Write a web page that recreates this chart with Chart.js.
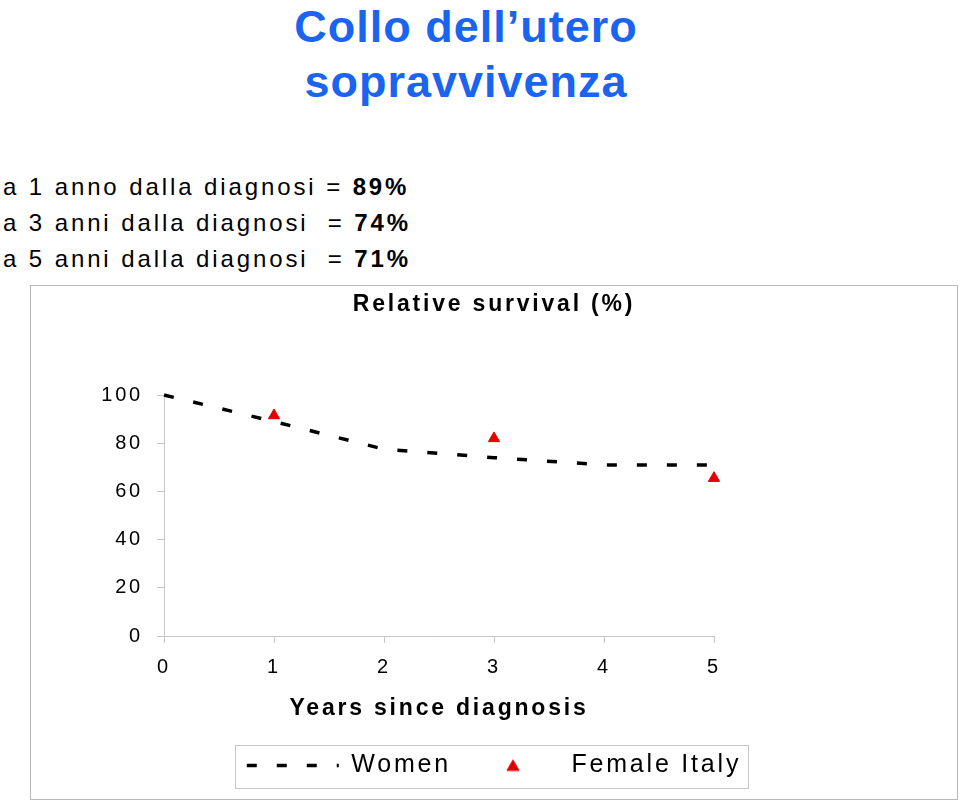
<!DOCTYPE html>
<html>
<head>
<meta charset="utf-8">
<script src="https://cdn.jsdelivr.net/npm/chart.js@4.4.1/dist/chart.umd.min.js"></script>
<style>
  body { margin: 0; width: 960px; height: 802px; background: #fff; position: relative; overflow: hidden; font-family: "Liberation Sans", Arial, sans-serif; }
  #head { position: absolute; left: 0; top: -1.4px; width: 932px; text-align: center; color: #1a64f0; font-weight: bold; font-size: 45px; line-height: 55px; letter-spacing: 1px; }
  #facts { position: absolute; left: 3px; top: 168.7px; font-size: 24px; line-height: 36px; letter-spacing: 2.9px; color: #000; white-space: pre; }
  #box { position: absolute; left: 30px; top: 285px; width: 926px; height: 513px; border: 1px solid #b8b8b8; }
</style>
</head>
<body>
<div id="head">Collo dell’utero<br>sopravvivenza</div>
<div id="facts">a 1 anno dalla diagnosi = <b>89%</b>
a 3 anni dalla diagnosi  = <b>74%</b>
a 5 anni dalla diagnosi  = <b>71%</b></div>
<div id="box"><canvas id="myChart" width="926" height="513"></canvas></div>
<script>
// data
var years = [0, 1, 2, 3, 4, 5]
var women = [100, 89, 77.5, 74, 71, 71]
var italyYears = [1, 3, 5]
var italy = [91.5, 82, 65.5]
var yTicks = [0, 20, 40, 60, 80, 100]
var xTicks = [0, 1, 2, 3, 4, 5]

Chart.defaults.font.family = '"Liberation Sans", Arial, sans-serif'
Chart.defaults.color = '#000'

var axisGray = '#c6c6c6'
var red = '#e50000'

// small triangle for the legend (pointStyleWidth would stretch the built-in one)
var triImg = document.createElement('canvas')
triImg.width = 16
triImg.height = 14
var tctx = triImg.getContext('2d')
tctx.fillStyle = red
tctx.strokeStyle = red
if (Chart.helpers && Chart.helpers.drawPoint) {
    Chart.helpers.drawPoint(tctx, {pointStyle: 'triangle', radius: 7, borderWidth: 1, rotation: 0}, 8, 8.5)
} else {
    tctx.beginPath()
    tctx.moveTo(8, 1.5)
    tctx.lineTo(14.06, 12)
    tctx.lineTo(1.94, 12)
    tctx.closePath()
    tctx.fill()
}

// wide text spacing like the original + box round the legend
var spacing = {
    id: 'spacing',
    beforeLayout: function(chart) { chart.ctx.letterSpacing = '2.8px' },
    beforeDraw: function(chart) { chart.ctx.letterSpacing = '2.8px' },
    afterDraw: function(chart) {
        var hb = chart.legend.legendHitBoxes
        if (!hb || !hb.length) return
        var first = hb[0]
        var last = hb[hb.length - 1]
        var ctx = chart.ctx
        var x0 = Math.round(first.left - 12) + 0.5
        var y0 = Math.round(first.top - 8) + 0.5
        var x1 = Math.round(last.left + last.width + 7) + 0.5
        var y1 = Math.round(first.top + first.height + 10) + 0.5
        ctx.save()
        ctx.setLineDash([])
        ctx.strokeStyle = axisGray
        ctx.lineWidth = 1
        ctx.strokeRect(x0, y0, x1 - x0, y1 - y0)
        ctx.restore()
    }
}

var womenData = []
years.forEach(function(x, i) { womenData.push({x: x, y: women[i]}) })
var italyData = []
italyYears.forEach(function(x, i) { italyData.push({x: x, y: italy[i]}) })

var ctx = document.getElementById('myChart').getContext('2d')
var myChart = new Chart(ctx, {
    type: 'line',
    data: {
        datasets: [{
            label: 'Women',
            data: womenData,
            borderColor: '#000',
            backgroundColor: '#000',
            borderWidth: 3.5,
            borderDash: [10, 20],
            pointRadius: 0,
            tension: 0,
            fill: false,
            clip: false
        }, {
            label: 'Female Italy',
            data: italyData,
            showLine: false,
            pointStyle: 'triangle',
            pointRadius: 6.5,
            pointBackgroundColor: red,
            pointBorderColor: red,
            backgroundColor: red,
            borderColor: red,
            borderWidth: 1,
            clip: false
        }]
    },
    options: {
        responsive: false,
        animation: false,
        events: [],
        layout: { padding: { left: 0, right: 0, top: 0, bottom: 11 } },
        scales: {
            x: {
                type: 'linear',
                min: 0,
                max: 5,
                afterBuildTicks: function(s) { s.ticks = xTicks.map(function(v) { return {value: v} }) },
                afterFit: function(s) { s.height = 101 },
                grid: { drawOnChartArea: false, drawTicks: true, tickLength: 7, color: axisGray },
                border: { color: axisGray },
                ticks: { font: { size: 20 }, padding: 12, color: '#000' },
                title: {
                    display: true,
                    text: 'Years since diagnosis',
                    font: { size: 23, weight: 'bold' },
                    color: '#000',
                    padding: { top: 0, bottom: 14.2 }
                }
            },
            y: {
                min: 0,
                max: 100,
                afterBuildTicks: function(s) { s.ticks = yTicks.map(function(v) { return {value: v} }) },
                afterFit: function(s) { s.width = 133 },
                grid: { drawOnChartArea: false, drawTicks: true, tickLength: 7, color: axisGray },
                border: { color: axisGray },
                ticks: { font: { size: 20 }, padding: 14, color: '#000' }
            },
            pad: {
                type: 'linear',
                position: 'right',
                display: true,
                grid: { display: false },
                border: { display: false },
                ticks: { display: false },
                afterFit: function(s) { s.width = 243 }
            }
        },
        plugins: {
            title: {
                display: true,
                text: 'Relative survival (%)',
                font: { size: 23, weight: 'bold' },
                color: '#000',
                padding: { top: 4.7, bottom: 76.7 }
            },
            legend: {
                position: 'bottom',
                labels: {
                    usePointStyle: true,
                    pointStyleWidth: 92,
                    boxHeight: 10,
                    padding: 16,
                    font: { size: 25 },
                    color: '#000',
                    generateLabels: function(chart) {
                        var ds = chart.data.datasets
                        return [{
                            text: ds[0].label,
                            pointStyle: 'line',
                            strokeStyle: ds[0].borderColor,
                            fillStyle: ds[0].borderColor,
                            lineWidth: ds[0].borderWidth,
                            lineDash: ds[0].borderDash,
                            hidden: false,
                            datasetIndex: 0
                        }, {
                            text: ds[1].label,
                            pointStyle: triImg,
                            strokeStyle: red,
                            fillStyle: red,
                            lineWidth: 0,
                            hidden: false,
                            datasetIndex: 1
                        }]
                    }
                }
            },
            tooltip: { enabled: false }
        }
    },
    plugins: [spacing]
});
</script>
</body>
</html>
